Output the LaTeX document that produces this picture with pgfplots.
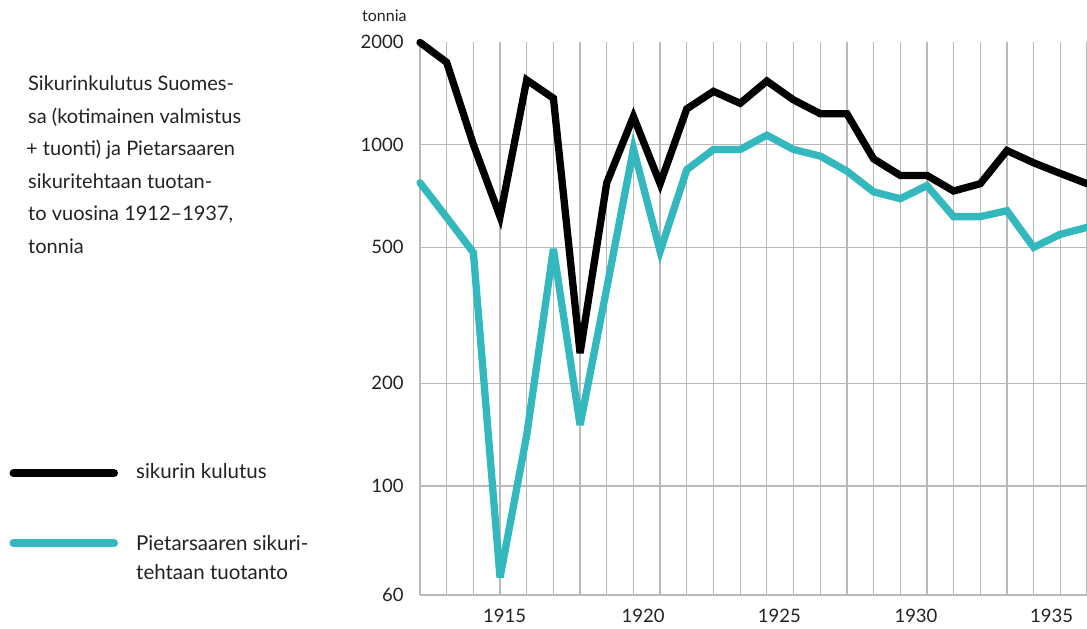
\documentclass[border=0pt]{standalone}
\usepackage{fontspec}
\setmainfont{Lato}
\usepackage{pgfplots}
\pgfplotsset{compat=1.18}
\definecolor{tealc}{RGB}{50,184,189}
\definecolor{gridc}{RGB}{185,185,185}
\definecolor{txt}{RGB}{34,34,34}
\begin{document}
\begin{tikzpicture}
\path[use as bounding box] (0,0) rectangle (1087bp,-629bp);
% title block
\begin{scope}[every node/.style={anchor=base west, inner sep=0pt, text=txt, font=\fontsize{20bp}{24bp}\selectfont}]
\node at (28bp,-90.7bp) {Sikurinkulutus Suomes-};
\node at (28bp,-123.2bp) {sa (kotimainen valmistus};
\node at (26bp,-155.6bp) {+ tuonti) ja Pietarsaaren};
\node at (28bp,-188.1bp) {sikuritehtaan tuotan-};
\node at (28bp,-220.5bp) {to vuosina 1912–1937,};
\node at (28bp,-253bp) {tonnia};
\end{scope}
% legend
\draw[line width=8bp, line cap=round, black] (13.5bp,-473.3bp) -- (114bp,-473.3bp);
\draw[line width=8bp, line cap=round, tealc] (13.5bp,-543.3bp) -- (114bp,-543.3bp);
\begin{scope}[every node/.style={anchor=base west, inner sep=0pt, text=txt, font=\fontsize{20.5bp}{24bp}\selectfont}]
\node at (136bp,-478.3bp) {sikurin kulutus};
\node at (136bp,-550bp) {Pietarsaaren sikuri-};
\node at (136bp,-579bp) {tehtaan tuotanto};
\end{scope}
\node[anchor=base west, inner sep=0pt, text=txt, font=\fontsize{16bp}{19bp}\selectfont] at (362bp,-21bp) {tonnia};
\begin{axis}[
  at={(420bp,-595bp)}, anchor=south west,
  scale only axis, width=667bp, height=553.3bp,
  xmin=1912, xmax=1937,
  ymode=log, ymin=48, ymax=2000,
  clip=false,
  axis line style={draw=none},
  major tick length=0pt, minor tick length=0pt,
  xtick={1915.17,1920.36,1925.47,1930.59,1935.67},
  xticklabels={1915,1920,1925,1930,1935},
  minor xtick={1912,1913,...,1937},
  xmajorgrids=false, xminorgrids=true,
  ytick={48,100,200,500,1000,2000},
  yticklabels={60,100,200,500,1000,2000},
  minor ytick={48,100,200,500,1000},
  ymajorgrids=false, yminorgrids=true,
  minor grid style={gridc, line width=1.3bp},
  /pgf/number format/assume math mode=true,
  xticklabel style={font=\fontsize{18.5bp}{21bp}\selectfont, text=txt, yshift=-11bp},
  yticklabel style={font=\fontsize{18.5bp}{21bp}\selectfont, text=txt, anchor=east, xshift=-13bp},
  every axis plot/.append style={line width=7.3bp, line join=miter, miter limit=5, line cap=round},
]
\addplot[tealc] coordinates {
(1912,773)(1913,612)(1914,483)(1915,54)(1916,141)(1917,495)(1918,151)(1919,380)
(1920,972)(1921,487)(1922,844)(1923,967)(1924,967)(1925,1065)(1926,967)(1927,925)
(1928,836)(1929,727)(1930,694)(1931,758)(1932,615)(1933,615)(1934,640)(1935,500)
(1936,546)(1937,572)};
\addplot[black] coordinates {
(1912,1990)(1913,1740)(1914,1000)(1915,615)(1916,1545)(1917,1366)(1918,245)(1919,773)
(1920,1207)(1921,768)(1922,1272)(1923,1431)(1924,1320)(1925,1534)(1926,1351)(1927,1231)
(1928,1231)(1929,908)(1930,812)(1931,812)(1932,731)(1933,768)(1934,960)(1935,884)
(1936,823)(1937,768)};
\end{axis}
\end{tikzpicture}
\end{document}
